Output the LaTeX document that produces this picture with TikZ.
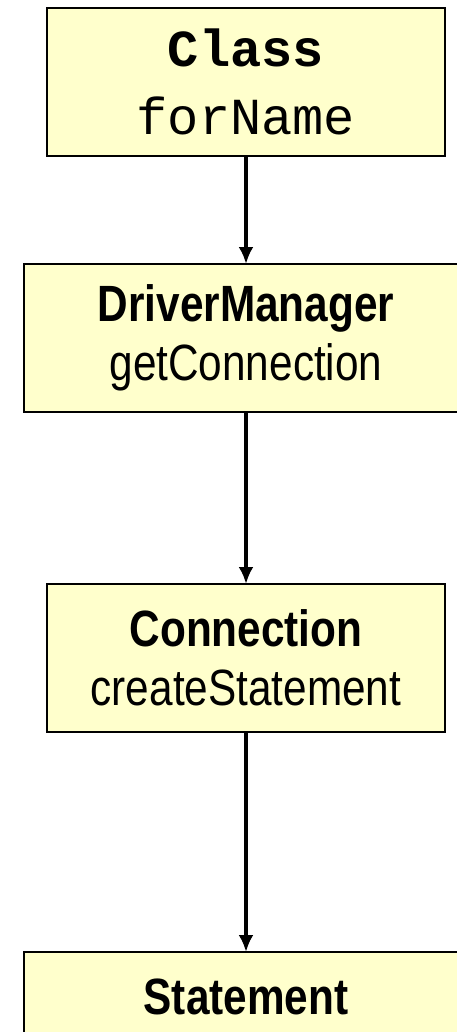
\documentclass[tikz,border=0pt]{standalone}
\usepackage{fontspec}
\setmonofont{Liberation Mono}
\newfontfamily\narrowsans{Liberation Sans}[FakeStretch=0.83]
\usepackage{tikz}
\usetikzlibrary{positioning}
\usetikzlibrary{arrows.meta}
\definecolor{boxfill}{RGB}{255,255,204}
\tikzset{ % boxes of the call chain
  callbox/.style={
    draw=black, line width=2.5pt, fill=boxfill, rectangle,
    minimum height=148pt, inner sep=0pt, outer sep=0pt, align=center
  },
  narrowbox/.style={callbox, minimum width=398pt},
  widebox/.style={callbox, minimum width=444pt},
  sanstext/.style={font=\narrowsans\fontsize{51}{59}\selectfont},
  monotext/.style={font=\ttfamily\fontsize{52}{68}\selectfont},
  callarrow/.style={line width=3.5pt, -{Latex[length=17pt,width=15pt]}}
}

\begin{document}
\begin{tikzpicture}
\useasboundingbox (0,0) rectangle (457pt,-1032pt);

\node [narrowbox,monotext] (cls) at (246pt,-82pt) {\textbf{Class}\\forName};
\node [widebox,sanstext,below=108pt of cls] (drv) {\textbf{DriverManager}\\getConnection};
\node [narrowbox,sanstext,below=172pt of drv] (conn) {\textbf{Connection}\\createStatement};
\node [widebox,sanstext,text depth=59pt,below=220pt of conn] (stmt) {\textbf{Statement}};

\draw [callarrow] (cls) -- (drv);
\draw [callarrow] (drv) -- (conn);
\draw [callarrow] (conn) -- (stmt);
\end{tikzpicture}
\end{document}
